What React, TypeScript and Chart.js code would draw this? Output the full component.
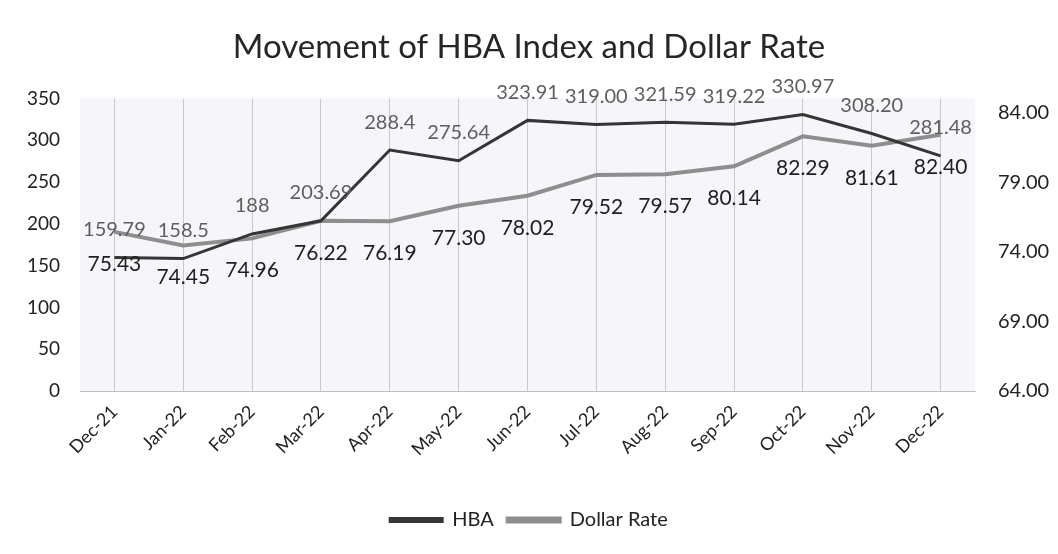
import React, { useEffect, useRef } from "react";
import { Chart, registerables } from "chart.js";

Chart.register(...registerables);

const categories = ["Dec-21", "Jan-22", "Feb-22", "Mar-22", "Apr-22", "May-22", "Jun-22", "Jul-22", "Aug-22", "Sep-22", "Oct-22", "Nov-22", "Dec-22"];
const hbaValues = [159.79, 158.5, 188, 203.69, 288.4, 275.64, 323.91, 319.0, 321.59, 319.22, 330.97, 308.2, 281.48];
const hbaText = ["159.79", "158.5", "188", "203.69", "288.4", "275.64", "323.91", "319.00", "321.59", "319.22", "330.97", "308.20", "281.48"];
const dollarValues = [75.43, 74.45, 74.96, 76.22, 76.19, 77.3, 78.02, 79.52, 79.57, 80.14, 82.29, 81.61, 82.4];
const leftTicks = [0, 50, 100, 150, 200, 250, 300, 350];
const rightTicks = [64, 69, 74, 79, 84];

const FONT = "Lato, 'Open Sans', sans-serif";

const bgPlugin = {
  id: "plotBg",
  beforeDraw(chart: any) {
    const { ctx, chartArea: a } = chart;
    ctx.save();
    ctx.fillStyle = "#ffffff";
    ctx.fillRect(0, 0, chart.width, chart.height);
    ctx.fillStyle = "#f6f5f9";
    ctx.fillRect(a.left, a.top, a.right - a.left, a.bottom - a.top);
    ctx.restore();
  },
};

const labelPlugin = {
  id: "valueLabels",
  afterDatasetsDraw(chart: any) {
    const ctx = chart.ctx;
    ctx.save();
    ctx.textAlign = "center";
    ctx.textBaseline = "middle";
    const m0 = chart.getDatasetMeta(0);
    ctx.font = `20px ${FONT}`;
    ctx.fillStyle = "#5e5e5e";
    m0.data.forEach((p: any, i: number) => {
      ctx.fillText(hbaText[i], p.x, p.y - 28);
    });
    const m1 = chart.getDatasetMeta(1);
    ctx.font = `21px ${FONT}`;
    ctx.fillStyle = "#1e1e1e";
    m1.data.forEach((p: any, i: number) => {
      ctx.fillText(dollarValues[i].toFixed(2), p.x, p.y + 32);
    });
    ctx.restore();
  },
};

export default function App() {
  const ref = useRef<HTMLCanvasElement>(null);
  useEffect(() => {
    document.body.style.margin = "0";
    const chart = new Chart(ref.current!, {
      type: "line",
      data: {
        labels: categories,
        datasets: [
          {
            label: "HBA",
            data: hbaValues,
            borderColor: "#353535",
            backgroundColor: "#353535",
            borderWidth: 3,
            pointRadius: 0,
            tension: 0,
            yAxisID: "y",
          },
          {
            label: "Dollar Rate",
            data: dollarValues,
            borderColor: "#8e8e8e",
            backgroundColor: "#8e8e8e",
            borderWidth: 4,
            pointRadius: 0,
            tension: 0,
            yAxisID: "y1",
          },
        ],
      },
      options: {
        responsive: false,
        animation: false,
        layout: { padding: { left: 0, right: 0, top: 0, bottom: 14 } },
        plugins: {
          title: {
            display: true,
            text: "Movement of HBA Index and Dollar Rate",
            color: "#262626",
            font: { family: FONT, size: 33, weight: "normal" },
            padding: { top: 28, bottom: 31 },
          },
          legend: {
            position: "bottom",
            labels: {
              color: "#222",
              font: { family: FONT, size: 20 },
              boxWidth: 52,
              boxHeight: 3,
              padding: 14,
            },
          },
          tooltip: { enabled: false },
        },
        scales: {
          x: {
            offset: true,
            grid: { display: true, offset: false, color: "#c9c9c9", lineWidth: 1, drawTicks: false },
            border: { display: true, color: "#bdbdbd" },
            ticks: {
              color: "#222",
              font: { family: FONT, size: 18 },
              maxRotation: 45,
              minRotation: 45,
              padding: 10,
            },
            afterFit(scale: any) {
              scale.height = 105;
            },
          },
          y: {
            position: "left",
            min: 0,
            max: 350,
            grid: { display: false },
            border: { display: false },
            afterBuildTicks(scale: any) {
              scale.ticks = leftTicks.map((v) => ({ value: v }));
            },
            ticks: {
              color: "#222",
              font: { family: FONT, size: 19 },
              padding: 12,
            },
            afterFit(scale: any) {
              scale.width = 80;
            },
          },
          y1: {
            position: "right",
            min: 64,
            max: 85,
            grid: { display: false },
            border: { display: false },
            afterBuildTicks(scale: any) {
              scale.ticks = rightTicks.map((v) => ({ value: v }));
            },
            ticks: {
              color: "#222",
              font: { family: FONT, size: 20 },
              padding: 15,
              callback: (v: any) => Number(v).toFixed(2),
            },
            afterFit(scale: any) {
              scale.width = 83;
            },
          },
        },
      },
      plugins: [bgPlugin, labelPlugin],
    });
    return () => chart.destroy();
  }, []);
  return <canvas ref={ref} width={1058} height={554} style={{ display: "block" }} />;
}
